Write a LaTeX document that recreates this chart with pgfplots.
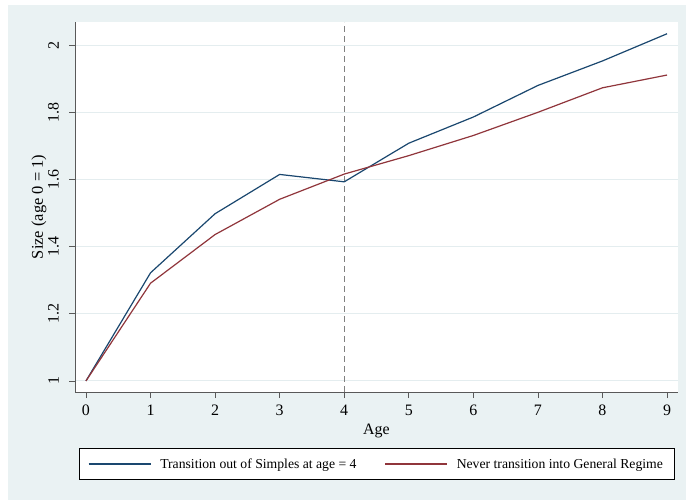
\documentclass[border=0pt]{standalone}
\usepackage{pgfplots}
\pgfplotsset{compat=1.18}
\usepackage{fontspec}
\setmainfont{Liberation Serif}
\definecolor{bgc}{RGB}{234,242,243}
\definecolor{gridc}{RGB}{228,237,239}
\definecolor{stnavy}{RGB}{26,71,111}
\definecolor{stmaroon}{RGB}{144,53,59}
\begin{document}
\begin{tikzpicture}
\useasboundingbox (0,0) rectangle (686bp,500bp);
\fill[white] (0,0) rectangle (686bp,500bp);
\fill[bgc] (8bp,0) rectangle (686bp,495bp);
\begin{axis}[
  at={(75bp,108bp)}, anchor=south west,
  scale only axis, width=603bp, height=370bp,
  xmin=-0.17, xmax=9.17, ymin=0.967, ymax=2.069,
  axis x line*=bottom, axis y line*=left,
  axis line style={-, black!65, line width=0.8bp},
  tick style={black!65, line width=0.8bp},
  tick align=outside, major tick length=6bp,
  axis background/.style={fill=white},
  xtick={0,1,2,3,4,5,6,7,8,9},
  xticklabels={0,1,2,3,4,5,6,7,8,9},
  ytick={1,1.2,1.4,1.6,1.8,2},
  yticklabels={{1},{1.2},{1.4},{1.6},{1.8},{2}},
  ymajorgrids, grid style={gridc, line width=1.1bp},
  tick label style={font=\fontsize{16}{18}\selectfont},
  xticklabel style={anchor=north, inner sep=0pt, yshift=-7bp},
  yticklabel shift=10bp,
  yticklabel style={rotate=90, anchor=south, inner sep=0pt},
  every axis x label/.style={at={(axis description cs:0.5,-0.1162)}, anchor=base, font=\fontsize{16}{18}\selectfont},
  every axis y label/.style={at={(axis description cs:-0.0531,0.5)}, rotate=90, anchor=base, font=\fontsize{16.5}{18}\selectfont},
  xlabel={Age},
  ylabel={Size (age 0 = 1)},
  legend columns=2,
  legend cell align=left,
  legend image code/.code={\draw[#1] (0bp,0bp) -- (62bp,0bp);},
  legend style={at={(0.5,-0.1946)}, anchor=center, draw=black, line width=0.6bp, fill=white,
    font=\fontsize{13.75}{16}\selectfont, inner xsep=9bp, inner ysep=8bp,
    /tikz/every odd column/.append style={column sep=7bp},
    /tikz/every even column/.append style={column sep=26bp}},
]
\addplot[black!50, line width=0.8bp, dash pattern=on 6bp off 4bp, forget plot] coordinates {(4,0.967) (4,2.069)};
\addplot[stnavy, line width=1.2bp] coordinates {
(0,1) (1,1.322) (2,1.498) (3,1.615) (4,1.593) (5,1.708) (6,1.786) (7,1.880) (8,1.953) (9,2.034)};
\addlegendentry{Transition out of Simples at age = 4}
\addplot[stmaroon, line width=1.2bp] coordinates {
(0,1) (1,1.291) (2,1.436) (3,1.541) (4,1.616) (5,1.671) (6,1.731) (7,1.800) (8,1.873) (9,1.911)};
\addlegendentry{Never transition into General Regime}
\end{axis}
\end{tikzpicture}
\end{document}
